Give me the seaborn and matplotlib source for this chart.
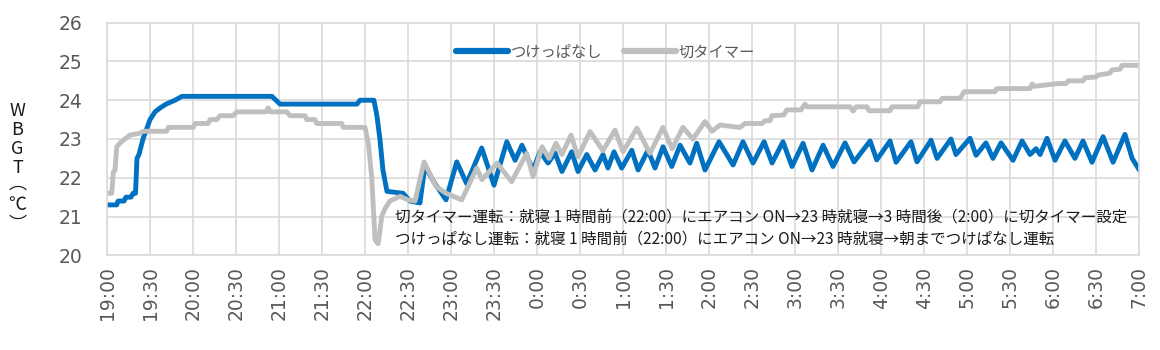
import matplotlib
matplotlib.use("Agg")
import matplotlib.pyplot as plt
import seaborn as sns
import pandas as pd

# ---------------- data (minutes after 19:00, WBGT in °C) ----------------
series_names = ["つけっぱなし", "切タイマー"]

blue_t = [0, 6.6, 7.5, 11.7, 13, 16.5, 18, 19.7, 20.7, 22.1, 24.9, 29.8, 33.3, 36.8, 41, 47.2, 52.1,
          114.9, 117.7, 120.5, 174.2, 176.3, 186, 188.1, 190.2, 192.3, 195.1, 206.3, 211.2, 218.1,
          221.6, 228.6, 236.3, 243.8, 250.7, 261.2, 269.8, 278.7, 284.5, 289.3, 297, 301.9, 307.5,
          312.4, 317.2, 324, 328.4, 334.5, 340.3, 345.8, 349.3, 353.5, 358.9, 365.9, 370.3, 377.2,
          382.1, 387.7, 393.8, 399.6, 406.5, 411.2, 417, 426.8, 436.6, 443.5, 450.5, 458.2, 463.8,
          471.4, 477.7, 485.4, 491.7, 499.4, 506.3, 514.7, 521, 532.2, 536.8, 546.1, 550.3, 560.7,
          564.9, 574.7, 578.9, 588.6, 592.1, 601.9, 606.1, 613, 617.9, 623.5, 631.9, 638.2, 643.8,
          648, 650.8, 655.6, 661.2, 668.1, 675.1, 680.7, 687, 694.7, 701.7, 710, 715, 720]
blue_v = [21.3, 21.3, 21.4, 21.4, 21.5, 21.5, 21.6, 21.6, 22.5, 22.6, 23.0, 23.5, 23.7, 23.8, 23.9, 24.0, 24.1,
          24.1, 24.0, 23.9, 23.9, 24.0, 24.0, 23.6, 23.0, 22.2, 21.65, 21.6, 21.4, 21.35,
          22.3, 21.85, 21.43, 22.41, 21.85, 22.77, 21.81, 22.93, 22.45, 22.84, 22.2, 22.67, 22.38,
          22.64, 22.16, 22.67, 22.16, 22.6, 22.2, 22.6, 22.25, 22.67, 22.25, 22.71, 22.2, 22.71,
          22.25, 22.8, 22.29, 22.84, 22.38, 22.89, 22.2, 22.93, 22.33, 22.93, 22.38, 22.93, 22.38,
          22.93, 22.29, 22.89, 22.2, 22.84, 22.29, 22.9, 22.41, 22.95, 22.46, 22.95, 22.4, 22.93,
          22.41, 22.97, 22.5, 23.0, 22.6, 23.02, 22.58, 22.9, 22.5, 22.9, 22.45, 22.95, 22.6,
          22.75, 22.6, 23.02, 22.45, 22.95, 22.5, 22.95, 22.4, 23.06, 22.4, 23.12, 22.5, 22.2]

gray_t = [0, 3.1, 4.2, 5.4, 6.6, 8.9, 12.3, 15.8, 22.8, 25.1, 41.4, 42.6, 60, 61.2, 70.3, 71.7, 76.3,
          78.6, 87.7, 90.3, 110.7, 112.3, 113.5, 125.2, 127.5, 137.9, 139.1, 144.9, 146.1, 163.5,
          164.7, 179.8, 182.1, 184.5, 186.8, 188.9, 190.3, 191.4, 193.7, 197.2, 204.2, 209.8, 214.7,
          221, 229.3, 236.3, 247.3, 257.7, 261.4, 271.9, 282.1, 292.6, 297, 303.3, 308.2, 313, 317.2,
          323.5, 328.4, 336.8, 345.8, 354.2, 359.8, 369.5, 378.6, 387.7, 394, 401.6, 408.6, 417,
          421.9, 427.5, 441.4, 444.9, 456.7, 458.8, 462.3, 463.7, 472.1, 474, 484, 485.4, 486.8,
          488.2, 518.2, 520.3, 522.4, 530, 531.4, 546.1, 547.5, 565.6, 567, 581, 582.4, 595, 596.3,
          597.7, 619.3, 620.7, 643.8, 645.2, 646.6, 663.3, 668.9, 670.3, 680.7, 682.1, 689.8, 691.2,
          699.5, 700.9, 706.5, 707.9, 720]
gray_v = [21.6, 21.6, 22.15, 22.2, 22.8, 22.9, 23.0, 23.1, 23.15, 23.2, 23.2, 23.3, 23.3, 23.4, 23.4, 23.5, 23.5,
          23.6, 23.6, 23.7, 23.7, 23.8, 23.7, 23.7, 23.6, 23.6, 23.5, 23.5, 23.4, 23.4,
          23.3, 23.3, 22.9, 22.0, 20.4, 20.3, 20.65, 21.0, 21.2, 21.4, 21.52, 21.43, 21.4,
          22.41, 21.78, 21.6, 21.43, 22.25, 21.95, 22.38, 21.9, 22.63, 22.03, 22.8, 22.5, 22.89, 22.6,
          23.1, 22.54, 23.19, 22.7, 23.23, 22.67, 23.28, 22.63, 23.3, 22.75, 23.3, 23.0, 23.45,
          23.2, 23.36, 23.3, 23.4, 23.4, 23.47, 23.47, 23.6, 23.62, 23.75, 23.75, 23.83, 23.9,
          23.83, 23.83, 23.72, 23.83, 23.83, 23.73, 23.73, 23.83, 23.83, 23.96, 23.96, 24.05, 24.05, 24.13,
          24.22, 24.22, 24.3, 24.3, 24.42, 24.36, 24.43, 24.43, 24.5, 24.5, 24.58, 24.6, 24.65,
          24.7, 24.78, 24.8, 24.9, 24.9]

tick_labels = ["19:00", "19:30", "20:00", "20:30", "21:00", "21:30", "22:00", "22:30", "23:00",
               "23:30", "0:00", "0:30", "1:00", "1:30", "2:00", "2:30", "3:00", "3:30", "4:00",
               "4:30", "5:00", "5:30", "6:00", "6:30", "7:00"]
y_ticks = [20, 21, 22, 23, 24, 25, 26]

note_lines = ["切タイマー運転：就寝 1 時間前（22:00）にエアコン ON→23 時就寝→3 時間後（2:00）に切タイマー設定",
              "つけっぱなし運転：就寝 1 時間前（22:00）にエアコン ON→23 時就寝→朝までつけぱなし運転"]

# ---------------- build table ----------------
df = pd.concat([
    pd.DataFrame({"time": blue_t, "value": blue_v, "series": series_names[0]}),
    pd.DataFrame({"time": gray_t, "value": gray_v, "series": series_names[1]}),
], ignore_index=True)

sns.set_theme(style="white")
plt.rcParams["font.family"] = ["Noto Sans CJK JP", "DejaVu Sans"]

W, H = 1160, 350
fig = plt.figure(figsize=(W / 100, H / 100), dpi=100)
L, R, T, B = 107.3, 1139.3, 22.7, 255.3
ax = fig.add_axes([L / W, 1 - B / H, (R - L) / W, (B - T) / H])

palette = {series_names[0]: "#0070C0", series_names[1]: "#BFBFBF"}
sns.lineplot(data=df, x="time", y="value", hue="series", hue_order=series_names,
             palette=palette, linewidth=3.5, estimator=None, sort=False, ax=ax,
             legend=True)
for line in ax.get_lines():
    line.set_solid_joinstyle("round")

ax.set_xlim(0, 720)
ax.set_ylim(20, 26)
ax.set_xticks(range(0, 721, 30))
ax.set_xticklabels(tick_labels, rotation=90, family="DejaVu Sans", fontsize=13.5, color="#595959")
ax.set_yticks(y_ticks)
ax.set_yticklabels([str(v) for v in y_ticks], family="DejaVu Sans", fontsize=13.5, color="#595959")
ax.tick_params(axis="x", length=0, pad=8)
ax.tick_params(axis="y", length=0, pad=18)
ax.set_xlabel("")
ax.set_ylabel("")
ax.grid(True, color="#D9D9D9", linewidth=1.2)
for s in ax.spines.values():
    s.set_color("#D9D9D9")
    s.set_linewidth(1.2)

handles, labels = ax.get_legend_handles_labels()
leg = ax.legend(handles, labels, loc="center", bbox_to_anchor=(0.483, 0.874), ncol=2,
                frameon=False, fontsize=11, handlelength=3.4, columnspacing=1.4,
                handletextpad=0.2)
for txt in leg.get_texts():
    txt.set_color("#595959")
for lh in leg.get_lines():
    lh.set_linewidth(4.5)

# annotation
fig.text(395 / W, 1 - 218 / H, note_lines[0], fontsize=11.2, color="#1a1a1a", va="center", ha="left")
fig.text(395 / W, 1 - 240 / H, note_lines[1], fontsize=11.2, color="#1a1a1a", va="center", ha="left")

# vertical y label (WBGT（℃） written top to bottom)
for ch, yy in [("W", 111), ("B", 130), ("G", 149), ("T", 168), ("℃", 205)]:
    fig.text(17.5 / W, 1 - yy / H, ch, fontsize=13, color="#1a1a1a", ha="center", va="center")
for ch, yy in [("︵", 184), ("︶", 225)]:
    fig.text(17.5 / W, 1 - yy / H, ch, fontsize=13, color="#1a1a1a", ha="center", va="center")

fig.savefig("out.png", dpi=100)
